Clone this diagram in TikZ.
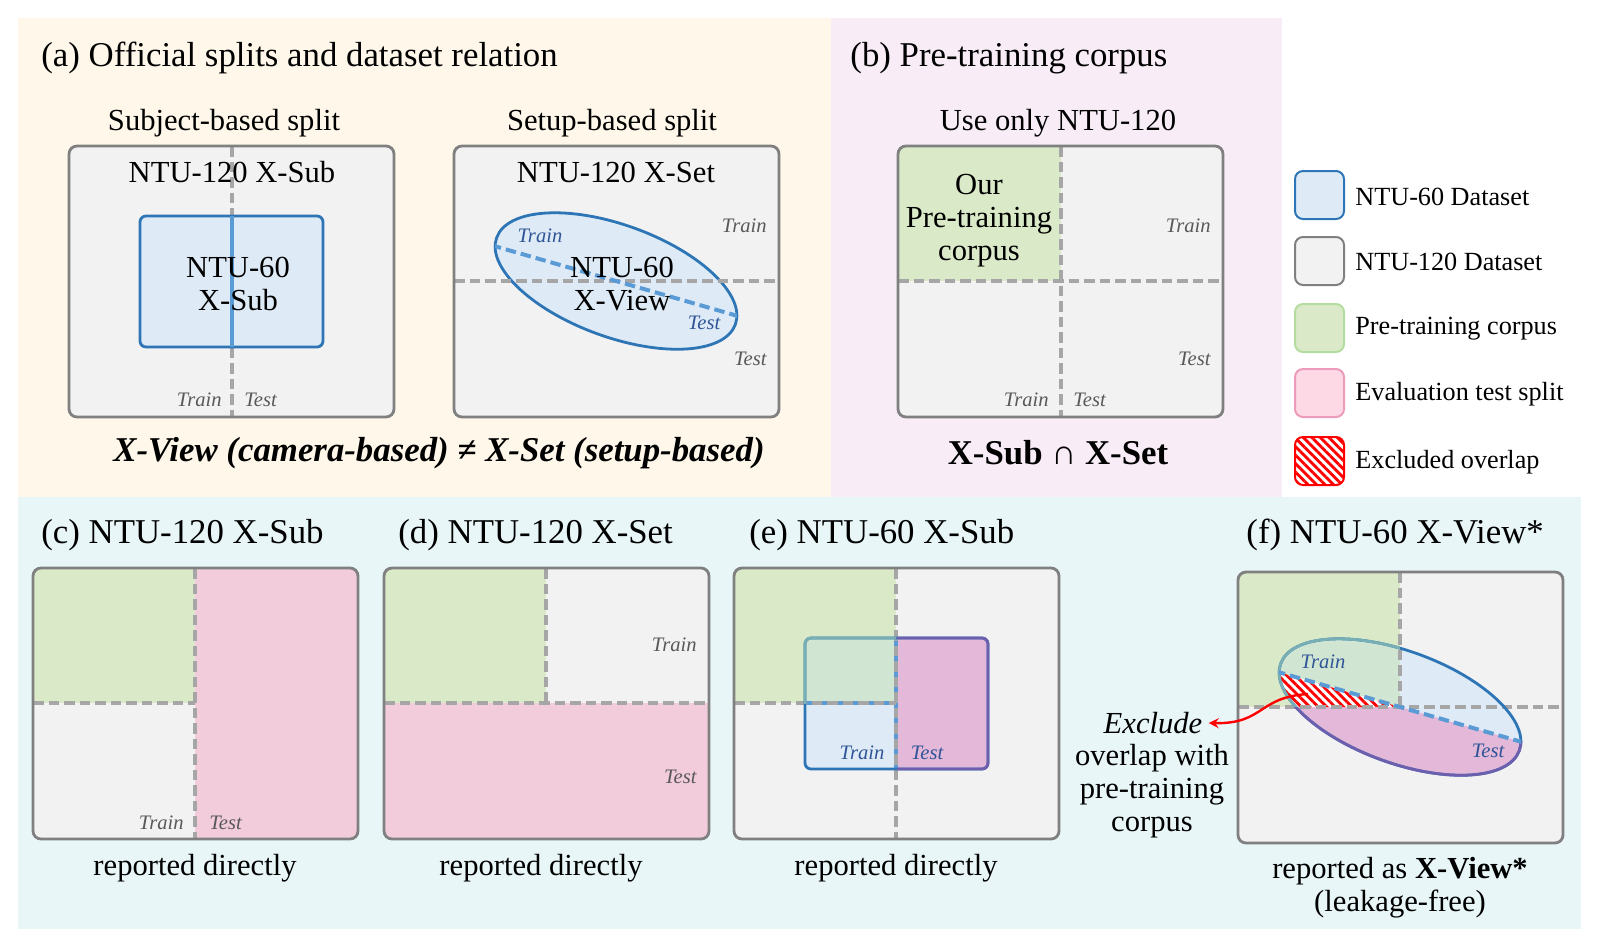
\documentclass[tikz,border=0pt]{standalone}
\usepackage{fontspec}
\setmainfont{Liberation Serif}
\usepackage{xcolor}
\usepackage{tikz}
\usetikzlibrary{arrows,patterns.meta}

\definecolor{creambg}{HTML}{FEF7EA}
\definecolor{lilacbg}{HTML}{F8ECF6}
\definecolor{cyanbg}{HTML}{E8F6F8}
\definecolor{boxgray}{HTML}{F2F2F2}
\definecolor{edgegray}{HTML}{808080}
\definecolor{dashgray}{HTML}{A6A6A6}
\definecolor{ntufill}{HTML}{DEEBF7}
\definecolor{ntublue}{HTML}{2E75B6}
\definecolor{splitblue}{HTML}{5B9BD5}
\definecolor{tagblue}{HTML}{2F5597}
\definecolor{taggray}{HTML}{595959}
\definecolor{corpusgreen}{HTML}{DAEAC8}
\definecolor{corpusedge}{HTML}{B5DCA0}
\definecolor{testpink}{HTML}{F2CCDA}
\definecolor{keypink}{HTML}{FDD9E6}
\definecolor{pinkedge}{HTML}{EC9BBA}
\definecolor{greenblend}{HTML}{D0E6D2}
\definecolor{tealedge}{HTML}{78AFB5}
\definecolor{testblend}{HTML}{E3B8D8}
\definecolor{purpleedge}{HTML}{6E5FAE}

\begin{document}
\begin{tikzpicture}[x=0.5pt,y=-0.5pt,
  panel fill/.style={fill=boxgray,rounded corners=4pt},
  panel edge/.style={draw=edgegray,line width=1.4pt,rounded corners=4pt},
  split line/.style={draw=dashgray,line width=2pt,dash pattern=on 5.25pt off 2.5pt},
  train test/.style={draw=splitblue,line width=2pt},
  ntu box/.style={fill=ntufill,draw=ntublue,line width=1.4pt,rounded corners=3pt},
  view ring/.style={x radius=63.5pt,y radius=28pt,rotate around={-20:(#1)}},
  body text/.style={inner sep=0pt,align=center,font=\fontsize{15.3}{16.5}\selectfont},
  head text/.style={inner sep=0pt,font=\fontsize{17.4}{20}\selectfont},
  gray tag/.style={inner sep=0pt,text=taggray,font=\fontsize{10.3}{12}\selectfont\itshape},
  blue tag/.style={inner sep=0pt,text=tagblue,font=\fontsize{10.3}{12}\selectfont\itshape},
  key text/.style={inner sep=0pt,anchor=west,font=\fontsize{13.1}{15}\selectfont},
  key box/.style={line width=1pt,rounded corners=4pt},
  red hatch/.style={pattern={Lines[angle=-45,distance=3pt,line width=1.4pt]},pattern color=red}]

  \useasboundingbox (0,0) rectangle (1600,950);
  \fill[creambg] (18,18) rectangle (831,497);
  \fill[lilacbg] (831,18) rectangle (1282,497);
  \fill[cyanbg] (18,497) rectangle (1581,929);

  % (a) official splits
  \node[head text,anchor=west] (titleA) at (41,58) {(a) Official splits and dataset relation};
  \node[body text] (subjectA) at (224,123) {Subject-based split};
  \node[body text] (setupA) at (612,123) {Setup-based split};

  \fill[panel fill] (69,146) rectangle (394,417);
  \draw[split line] (232,146) -- (232,417);
  \filldraw[ntu box] (140,216) rectangle (323,347);
  \draw[train test] (232,216) -- (232,347);
  \draw[panel edge] (69,146) rectangle (394,417);
  \node[body text] (xsubA) at (232,172) {NTU-120 X-Sub};
  \node[body text] (xsubsixty) at (238,284) {NTU-60\\X-Sub};
  \node[gray tag,anchor=east] (trainA) at (222,400) {Train};
  \node[gray tag,anchor=west] (testA) at (244,400) {Test};

  \fill[panel fill] (454,146) rectangle (779,417);
  \coordinate (viewA) at (616,281);
  \filldraw[fill=ntufill,draw=ntublue,line width=1.4pt,view ring=viewA] (viewA) ellipse [];
  \draw[split line] (454,281) -- (779,281);
  \begin{scope}
    \clip[view ring=viewA] (viewA) ellipse [];
    \draw[train test,dash pattern=on 5.25pt off 2.5pt] (476,240.8) -- (756,321.2);
  \end{scope}
  \draw[panel edge] (454,146) rectangle (779,417);
  \node[body text] (xsetA) at (616,172) {NTU-120 X-Set};
  \node[body text] (xviewsixty) at (622,284) {NTU-60\\X-View};
  \node[blue tag] (viewtrainA) at (540,236) {Train};
  \node[blue tag] (viewtestA) at (704,323) {Test};
  \node[gray tag,anchor=east] (settrainA) at (767,226) {Train};
  \node[gray tag,anchor=east] (settestA) at (767,359) {Test};

  \node[head text] (relation) at (439,453) {\bfseries\itshape X-View (camera-based) ≠ X-Set (setup-based)};

  % (b) pre-training corpus
  \node[head text,anchor=west] (titleB) at (850,58) {(b) Pre-training corpus};
  \node[body text] (onlyB) at (1058,123) {Use only NTU-120};
  \fill[panel fill] (898,146) rectangle (1223,417);
  \begin{scope}
    \clip[rounded corners=4pt] (898,146) rectangle (1223,417);
    \fill[corpusgreen] (898,146) rectangle (1061,281);
  \end{scope}
  \draw[split line] (1061,146) -- (1061,417);
  \draw[split line] (898,281) -- (1223,281);
  \draw[panel edge] (898,146) rectangle (1223,417);
  \node[body text] (corpusB) at (979,221) {Our\\Pre-training\\corpus};
  \node[gray tag,anchor=east] (settrainB) at (1211,226) {Train};
  \node[gray tag,anchor=east] (settestB) at (1211,359) {Test};
  \node[gray tag,anchor=east] (subtrainB) at (1049,400) {Train};
  \node[gray tag,anchor=west] (subtestB) at (1073,400) {Test};
  \node[head text] (intersect) at (1058,453) {\bfseries X-Sub ∩ X-Set};

  % legend
  \filldraw[key box,fill=ntufill,draw=ntublue] (1295,171) rectangle (1344,219);
  \node[key text] (keysixty) at (1355,197) {NTU-60 Dataset};
  \filldraw[key box,fill=boxgray,draw=edgegray] (1295,237) rectangle (1344,285);
  \node[key text] (keyonetwenty) at (1355,262) {NTU-120 Dataset};
  \filldraw[key box,fill=corpusgreen,draw=corpusedge] (1295,304) rectangle (1344,352);
  \node[key text] (keycorpus) at (1355,329) {Pre-training corpus};
  \filldraw[key box,fill=keypink,draw=pinkedge] (1295,369) rectangle (1344,417);
  \node[key text] (keytest) at (1355,394) {Evaluation test split};
  \filldraw[key box,draw=red,red hatch] (1295,437) rectangle (1344,485);
  \node[key text] (keyoverlap) at (1355,462) {Excluded overlap};

  % (c) NTU-120 X-Sub
  \node[head text,anchor=west] (titleC) at (41,535) {(c) NTU-120 X-Sub};
  \fill[panel fill] (33,568) rectangle (358,839);
  \begin{scope}
    \clip[rounded corners=4pt] (33,568) rectangle (358,839);
    \fill[corpusgreen] (33,568) rectangle (195,703);
    \fill[testpink] (195,568) rectangle (358,839);
  \end{scope}
  \draw[split line] (195,568) -- (195,839);
  \draw[split line] (33,703) -- (195,703);
  \draw[panel edge] (33,568) rectangle (358,839);
  \node[gray tag,anchor=east] (trainC) at (184,823) {Train};
  \node[gray tag,anchor=west] (testC) at (209,823) {Test};
  \node[body text] (reportC) at (195,868) {reported directly};

  % (d) NTU-120 X-Set
  \node[head text,anchor=west] (titleD) at (398,535) {(d) NTU-120 X-Set};
  \fill[panel fill] (384,568) rectangle (709,839);
  \begin{scope}
    \clip[rounded corners=4pt] (384,568) rectangle (709,839);
    \fill[corpusgreen] (384,568) rectangle (546,703);
    \fill[testpink] (384,703) rectangle (709,839);
  \end{scope}
  \draw[split line] (546,568) -- (546,703);
  \draw[split line] (384,703) -- (709,703);
  \draw[panel edge] (384,568) rectangle (709,839);
  \node[gray tag,anchor=east] (trainD) at (697,645) {Train};
  \node[gray tag,anchor=east] (testD) at (697,777) {Test};
  \node[body text] (reportD) at (541,868) {reported directly};

  % (e) NTU-60 X-Sub
  \node[head text,anchor=west] (titleE) at (749,535) {(e) NTU-60 X-Sub};
  \fill[panel fill] (734,568) rectangle (1059,839);
  \begin{scope}
    \clip[rounded corners=4pt] (734,568) rectangle (1059,839);
    \fill[corpusgreen] (734,568) rectangle (896,703);
  \end{scope}
  \fill[ntufill,rounded corners=3pt] (805,638) rectangle (988,769);
  \begin{scope}
    \clip (734,568) rectangle (896,703);
    \fill[greenblend,rounded corners=3pt] (805,638) rectangle (988,769);
  \end{scope}
  \begin{scope}
    \clip (896,568) rectangle (1059,839);
    \fill[testblend,rounded corners=3pt] (805,638) rectangle (988,769);
  \end{scope}
  \draw[train test] (896,638) -- (896,769);
  \draw[train test] (805,703) -- (896,703);
  \draw[split line] (896,568) -- (896,839);
  \draw[split line] (734,703) -- (896,703);
  \draw[ntublue,line width=1.4pt,rounded corners=3pt] (805,638) rectangle (988,769);
  \begin{scope}
    \clip (734,568) rectangle (896,703);
    \draw[tealedge,line width=1.4pt,rounded corners=3pt] (805,638) rectangle (988,769);
  \end{scope}
  \begin{scope}
    \clip (897,568) rectangle (1059,839);
    \draw[purpleedge,line width=1.4pt,rounded corners=3pt] (805,638) rectangle (988,769);
  \end{scope}
  \draw[panel edge] (734,568) rectangle (1059,839);
  \node[blue tag] (trainE) at (862,753) {Train};
  \node[blue tag] (testE) at (927,753) {Test};
  \node[body text] (reportE) at (896,868) {reported directly};

  % (f) NTU-60 X-View*
  \node[head text,anchor=west] (titleF) at (1246,535) {(f) NTU-60 X-View*};
  \fill[panel fill] (1238,572) rectangle (1563,843);
  \begin{scope}
    \clip[rounded corners=4pt] (1238,572) rectangle (1563,843);
    \fill[corpusgreen] (1238,572) rectangle (1400,707);
  \end{scope}
  \coordinate (viewF) at (1400,707);
  \fill[ntufill,view ring=viewF] (viewF) ellipse [];
  \begin{scope}
    \clip (1238,572) rectangle (1400,707);
    \fill[greenblend,view ring=viewF] (viewF) ellipse [];
  \end{scope}
  \begin{scope}
    \clip (1260,707) -- (1400,707) -- (1540,747.2) -- (1540,800) -- (1260,800) -- cycle;
    \fill[testblend,view ring=viewF] (viewF) ellipse [];
  \end{scope}
  \begin{scope}
    \clip[view ring=viewF] (viewF) ellipse [];
    \fill[white] (1260,666.8) -- (1400,707) -- (1260,707) -- cycle;
    \fill[red hatch] (1260,666.8) -- (1400,707) -- (1260,707) -- cycle;
  \end{scope}
  \draw[split line] (1238,707) -- (1563,707);
  \draw[split line] (1400,572) -- (1400,707);
  \draw[ntublue,line width=1.4pt,view ring=viewF] (viewF) ellipse [];
  \begin{scope}
    \clip (1238,572) rectangle (1400,707);
    \draw[tealedge,line width=1.4pt,view ring=viewF] (viewF) ellipse [];
  \end{scope}
  \begin{scope}
    \clip (1260,707) -- (1400,707) -- (1540,747.2) -- (1540,800) -- (1260,800) -- cycle;
    \draw[purpleedge,line width=1.4pt,view ring=viewF] (viewF) ellipse [];
  \end{scope}
  \begin{scope}
    \clip[view ring=viewF] (viewF) ellipse [];
    \draw[train test,dash pattern=on 5.25pt off 2.5pt] (1260,666.8) -- (1540,747.2);
  \end{scope}
  \draw[panel edge] (1238,572) rectangle (1563,843);
  \node[blue tag] (trainF) at (1323,662) {Train};
  \node[blue tag] (testF) at (1488,751) {Test};

  \coordinate (overlap) at (1308,694);
  \node[body text,inner sep=3pt,font=\fontsize{15.3}{16.5}\selectfont\itshape] (exclude) at (1153,723) {Exclude};
  \node[body text] (excludenote) at (1152,791) {overlap with\\pre-training\\corpus};
  \draw[red,line width=1.2pt,-stealth] (overlap) .. controls (1258,697) and (1264,724) .. (exclude.east);
  \node[body text] (reportF) at (1400,888) {reported as \textbf{X-View*}\\(leakage-free)};

\end{tikzpicture}
\end{document}
